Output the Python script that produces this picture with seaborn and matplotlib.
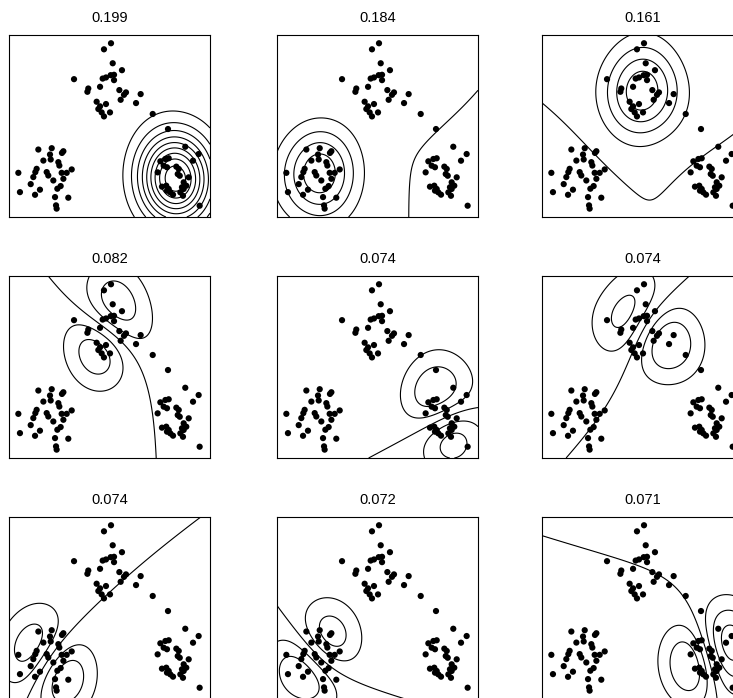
import numpy as np
import matplotlib
matplotlib.use("Agg")
import matplotlib.pyplot as plt
from matplotlib.ticker import MaxNLocator
import seaborn as sns

sns.set_theme(style="white")
plt.rcParams['font.family'] = ['Liberation Sans', 'DejaVu Sans']

# points, region [-1, 1] x [-0.5, 1]
left_x = [-0.708, -0.575, -0.459, -0.473, -0.592, -0.658, -0.585, -0.509, -0.499, -0.725,
          -0.738, -0.625, -0.609, -0.907, -0.758, -0.376, -0.426, -0.476, -0.459, -0.559,
          -0.784, -0.692, -0.486, -0.519, -0.891, -0.741, -0.542, -0.410, -0.532, -0.526]
left_y = [0.056, 0.067, 0.042, 0.028, 0.015, -0.035, -0.026, -0.048, -0.076, -0.103,
          -0.130, -0.130, -0.158, -0.136, -0.171, -0.108, -0.136, -0.136, -0.185, -0.199,
          -0.229, -0.275, -0.245, -0.267, -0.295, -0.317, -0.336, -0.341, -0.404, -0.431]
top_x = [0.015, -0.055, 0.032, 0.124, -0.353, -0.035, 0.012, 0.045, -0.068, 0.045,
         -0.211, -0.220, -0.094, 0.098, 0.164, 0.144, 0.310, 0.111, 0.264, -0.128,
         -0.035, -0.094, -0.111, -0.078, 0.005, -0.055, 0.430]
top_y = [0.932, 0.882, 0.767, 0.710, 0.636, 0.650, 0.669, 0.672, 0.641, 0.628,
         0.559, 0.532, 0.573, 0.546, 0.527, 0.507, 0.513, 0.466, 0.439, 0.450,
         0.431, 0.412, 0.390, 0.362, 0.362, 0.329, 0.349]
right_x = [0.582, 0.754, 0.887, 0.831, 0.506, 0.556, 0.589, 0.539, 0.572, 0.479,
           0.665, 0.689, 0.679, 0.699, 0.788, 0.738, 0.764, 0.721, 0.522, 0.565,
           0.589, 0.605, 0.572, 0.632, 0.705, 0.738, 0.731, 0.897]
right_y = [0.225, 0.079, 0.019, -0.036, -0.041, -0.022, -0.016, -0.077, -0.090, -0.132,
           -0.085, -0.104, -0.146, -0.160, -0.173, -0.214, -0.242, -0.255, -0.250, -0.242,
           -0.269, -0.297, -0.283, -0.316, -0.297, -0.269, -0.325, -0.407]

titles = ['0.199', '0.184', '0.161', '0.082', '0.074', '0.074', '0.074', '0.072', '0.071']
# panels 4-9 split one cluster each: (cluster, rank of the component inside that cluster)
split_cluster = ['top', 'right', 'top', 'left', 'left', 'right']
split_rank = [1, 1, 2, 2, 1, 2]
nbins = [10, 5, 5, 6, 6, 6, 6, 6, 7]
rbf_var = 0.1

X = np.column_stack([np.r_[left_x, top_x, right_x], np.r_[left_y, top_y, right_y]])
n = len(X)
n_l, n_t = len(left_x), len(top_x)
groups = {'left': slice(0, n_l), 'top': slice(n_l, n_l + n_t), 'right': slice(n_l + n_t, n)}


def kern(a, b):
    d2 = ((a[:, None, :] - b[None, :, :]) ** 2).sum(-1)
    return np.exp(-d2 / rbf_var)


K = kern(X, X)
w, V = np.linalg.eigh(K)
order = np.argsort(-w)

gx = np.linspace(-1, 1, 241)
gy = np.linspace(-0.5, 1, 181)
GX, GY = np.meshgrid(gx, gy)
Kg = kern(np.column_stack([GX.ravel(), GY.ravel()]), X)

# first three components: one bump per cluster
fields = []
for i in range(3):
    k = order[i]
    fields.append((Kg @ V[:, k]) / np.sqrt(w[k]))
# next six: splits inside a single cluster
for cl, rk in zip(split_cluster, split_rank):
    sl = groups[cl]
    wc, Vc = np.linalg.eigh(K[sl, sl])
    oc = np.argsort(-wc)[rk]
    fields.append((Kg[:, sl] @ Vc[:, oc]) / np.sqrt(wc[oc]))

fig = plt.figure(figsize=(7.33, 6.98), dpi=100)
lefts = [9, 277, 542]
tops = [35, 276, 517]
for i in range(9):
    r, c = divmod(i, 3)
    ax = fig.add_axes([lefts[c] / 733, 1 - (tops[r] + 182) / 698, 201 / 733, 182 / 698])
    Z = fields[i].reshape(GX.shape)
    lev = MaxNLocator(nbins=nbins[i]).tick_values(Z.min(), Z.max())
    lev = lev[(lev > Z.min()) & (lev < Z.max())]
    ax.contour(GX, GY, Z, levels=lev, colors='black', linewidths=0.8, linestyles='solid')
    sns.scatterplot(x=X[:, 0], y=X[:, 1], color='black', s=20, edgecolor='none',
                    ax=ax, legend=False)
    ax.set_xlim(-1, 1)
    ax.set_ylim(-0.5, 1)
    ax.set_xticks([])
    ax.set_yticks([])
    for s in ax.spines.values():
        s.set_color('black')
        s.set_linewidth(0.8)
    ax.set_title(titles[i], pad=9.5, fontsize=10.5, color='black')

fig.savefig('out.png', dpi=100)
